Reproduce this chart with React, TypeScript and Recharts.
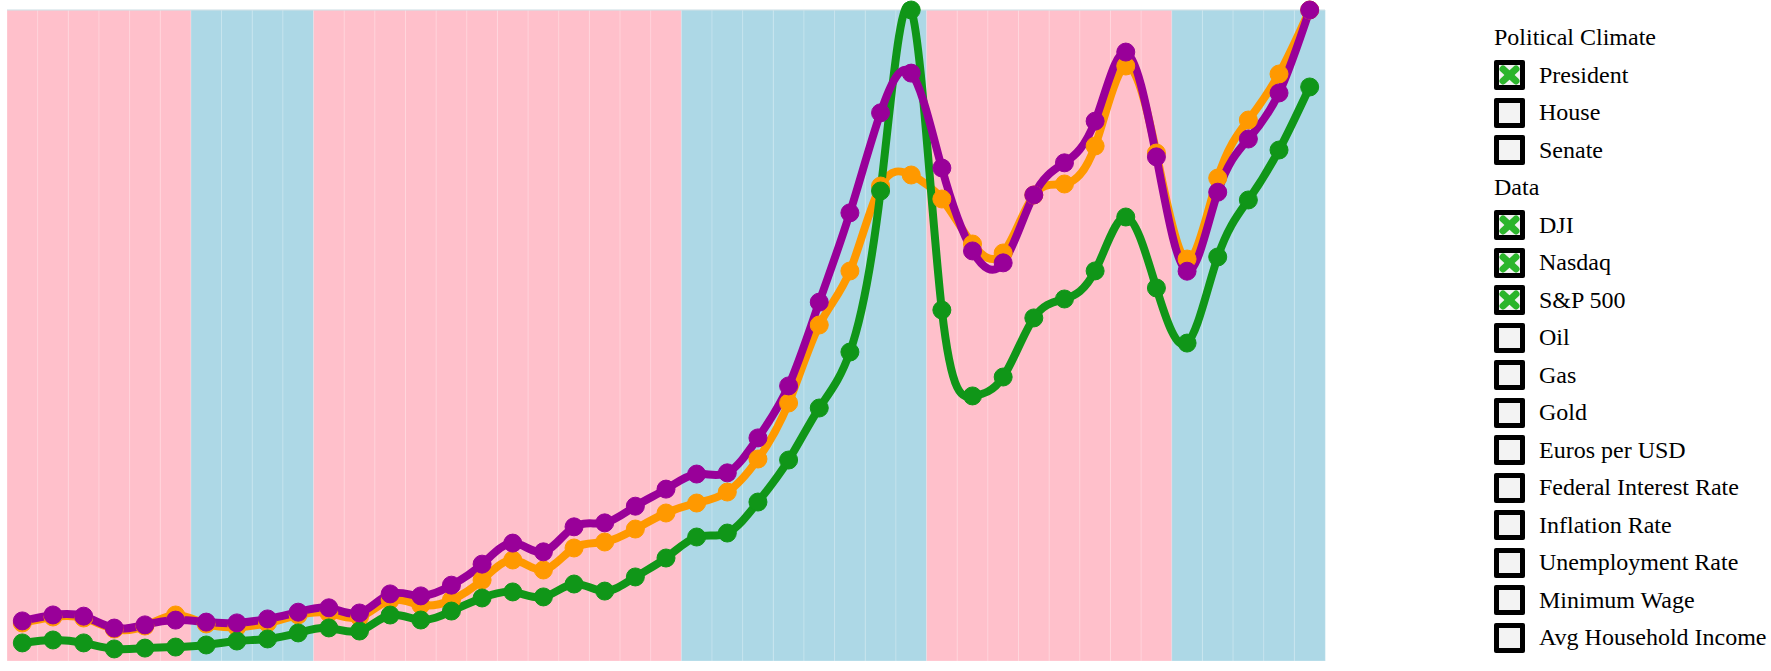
import React from "react";
import {
  ComposedChart,
  Bar,
  Line,
  Cell,
  XAxis,
  YAxis,
  ReferenceLine
} from "recharts";

const years = [
  1971, 1972, 1973, 1974, 1975, 1976, 1977, 1978, 1979, 1980, 1981, 1982, 1983, 1984, 1985,
  1986, 1987, 1988, 1989, 1990, 1991, 1992, 1993, 1994, 1995, 1996, 1997, 1998, 1999, 2000,
  2001, 2002, 2003, 2004, 2005, 2006, 2007, 2008, 2009, 2010, 2011, 2012, 2013
];

// party of the sitting president, per year
const president = [
  "R", "R", "R", "R", "R", "R", "D", "D", "D", "D", "R", "R", "R", "R", "R",
  "R", "R", "R", "R", "R", "R", "R", "D", "D", "D", "D", "D", "D", "D", "D",
  "R", "R", "R", "R", "R", "R", "R", "R", "D", "D", "D", "D", "D"
];

const dji = [
  876, 1014, 991, 737, 806, 1060, 853, 783, 876, 1060, 1106, 1014, 1405, 1290, 1405,
  1866, 2327, 2097, 2604, 2742, 3041, 3410, 3640, 3894, 4654, 5945, 7742, 8986, 10944, 11198,
  10645, 9608, 9401, 10737, 10991, 11866, 13709, 11705, 9262, 11129, 12465, 13525, 15000
];

const nasdaq = [
  105, 122, 105, 70, 75, 81, 93, 116, 128, 163, 192, 174, 267, 238, 290,
  366, 401, 372, 447, 406, 488, 598, 720, 743, 923, 1167, 1469, 1794, 2729, 3780,
  2038, 1539, 1649, 1992, 2102, 2265, 2578, 2166, 1846, 2346, 2677, 2967, 3333
];

const sp500 = [
  101, 116, 113, 83, 91, 103, 98, 96, 106, 123, 134, 121, 169, 164, 191,
  244, 297, 275, 338, 348, 390, 433, 471, 474, 562, 693, 904, 1129, 1381, 1481,
  1242, 1033, 1003, 1174, 1255, 1360, 1534, 1270, 982, 1181, 1315, 1431, 1640
];

const partyColor: Record<string, string> = { R: "pink", D: "lightblue" };

const rows = years.map((year, i) => ({
  year,
  bg: 1,
  party: president[i],
  dji: dji[i],
  nasdaq: nasdaq[i],
  sp500: sp500[i]
}));

const series = [
  { key: "dji", color: "#ff9900" },
  { key: "nasdaq", color: "#109618" },
  { key: "sp500", color: "#990099" }
];

const legendRows: Array<{ label: string; heading?: boolean; checked?: boolean }> = [
  { label: "Political Climate", heading: true },
  { label: "President", checked: true },
  { label: "House" },
  { label: "Senate" },
  { label: "Data", heading: true },
  { label: "DJI", checked: true },
  { label: "Nasdaq", checked: true },
  { label: "S&P 500", checked: true },
  { label: "Oil" },
  { label: "Gas" },
  { label: "Gold" },
  { label: "Euros per USD" },
  { label: "Federal Interest Rate" },
  { label: "Inflation Rate" },
  { label: "Unemployment Rate" },
  { label: "Minimum Wage" },
  { label: "Avg Household Income" }
];

function Box({ checked }: { checked?: boolean }) {
  return (
    <svg width={31} height={30} style={{ marginRight: 14, flex: "none" }}>
      <rect x={0} y={0} width={31} height={30} rx={2} fill="#000" />
      <rect x={5} y={5} width={21} height={20} fill="#f3f3f3" />
      {checked && (
        <g stroke="#2bb52b" strokeWidth={7} strokeLinecap="round">
          <line x1={9} y1={9} x2={22} y2={21} />
          <line x1={22} y1={9} x2={9} y2={21} />
        </g>
      )}
    </svg>
  );
}

export default function App() {
  return (
    <div style={{ position: "absolute", left: 0, top: 0, width: 1771, height: 671 }}>
      <ComposedChart
        width={1330}
        height={671}
        data={rows}
        barCategoryGap={0}
        margin={{ top: 10, right: 5, bottom: 10, left: 7 }}
      >
        <XAxis
          dataKey="year"
          height={0}
          tick={false}
          tickLine={false}
          axisLine={{ stroke: "#383838", strokeWidth: 2 }}
        />
        <YAxis yAxisId="bg" hide domain={[0, 1]} />
        <YAxis yAxisId="dji" hide domain={[0, "dataMax"]} />
        <YAxis yAxisId="nasdaq" hide domain={[0, "dataMax"]} />
        <YAxis yAxisId="sp500" hide domain={[0, "dataMax"]} />
        <Bar
          yAxisId="bg"
          dataKey="bg"
          isAnimationActive={false}
          stroke="#ffffff"
          strokeOpacity={0.25}
          strokeWidth={1}
        >
          {rows.map((r, i) => (
            <Cell key={`bg-${i}`} fill={partyColor[r.party]} />
          ))}
        </Bar>
        <ReferenceLine yAxisId="bg" y={1} stroke="#cbdde3" strokeWidth={1} />
        {series.map((s) => (
          <Line
            key={s.key}
            yAxisId={s.key}
            dataKey={s.key}
            type="natural"
            stroke={s.color}
            strokeWidth={8}
            dot={{ r: 9, fill: s.color, stroke: s.color, strokeWidth: 1 }}
            activeDot={false}
            isAnimationActive={false}
          />
        ))}
      </ComposedChart>
      <div
        style={{
          position: "absolute",
          left: 1494,
          top: 19,
          fontFamily: "'Liberation Serif', 'Times New Roman', serif",
          fontSize: 24,
          color: "#000"
        }}
      >
        {legendRows.map((r) => (
          <div
            key={r.label}
            style={{ height: 37.5, display: "flex", alignItems: "center", whiteSpace: "nowrap" }}
          >
            {!r.heading && <Box checked={r.checked} />}
            <span>{r.label}</span>
          </div>
        ))}
      </div>
    </div>
  );
}
